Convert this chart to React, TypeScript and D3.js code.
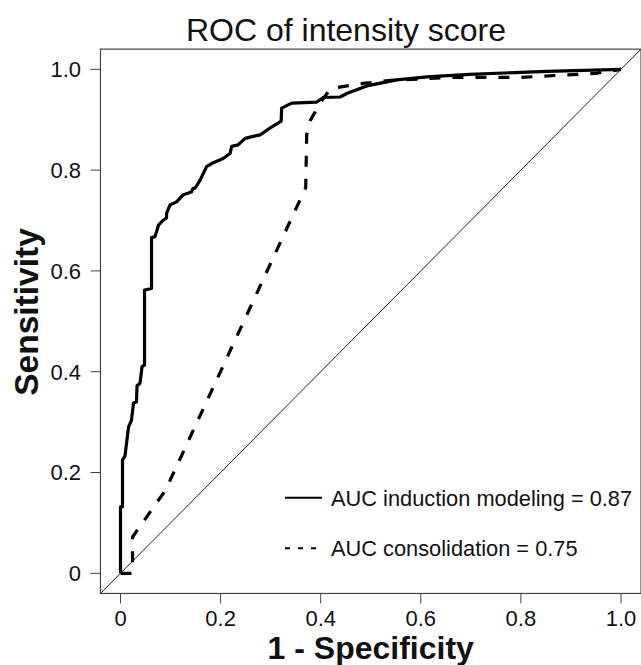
import React from 'react'
import * as d3 from 'd3'

// ROC points: [1 - specificity, sensitivity]
const inductionFpr = [0, 0, 0.004, 0.004, 0.009, 0.016, 0.022, 0.026, 0.032, 0.033, 0.039, 0.043, 0.048, 0.048, 0.062, 0.062, 0.069, 0.076, 0.086, 0.092, 0.092, 0.099, 0.112, 0.125, 0.135, 0.142, 0.145, 0.149, 0.159, 0.172, 0.182, 0.205, 0.219, 0.222, 0.235, 0.249, 0.261, 0.279, 0.301, 0.321, 0.322, 0.342, 0.392, 0.405, 0.439, 0.452, 0.492, 0.552, 0.612, 0.698, 0.852, 1]
const inductionTpr = [0, 0.132, 0.132, 0.225, 0.233, 0.29, 0.304, 0.338, 0.34, 0.372, 0.377, 0.41, 0.413, 0.562, 0.565, 0.666, 0.668, 0.691, 0.701, 0.705, 0.714, 0.731, 0.737, 0.751, 0.754, 0.757, 0.764, 0.764, 0.78, 0.807, 0.813, 0.823, 0.833, 0.847, 0.85, 0.863, 0.866, 0.87, 0.885, 0.897, 0.923, 0.933, 0.935, 0.944, 0.945, 0.952, 0.967, 0.979, 0.985, 0.99, 0.996, 1]

const consolidationFpr = [0, 0.024, 0.024, 0.09, 0.37, 0.372, 0.38, 0.4, 0.42, 0.485, 0.54, 0.66, 0.8, 0.95, 1]
const consolidationTpr = [0, 0, 0.072, 0.165, 0.765, 0.87, 0.9, 0.935, 0.962, 0.972, 0.978, 0.984, 0.984, 0.992, 1]

const ticks = [0, 0.2, 0.4, 0.6, 0.8, 1.0]
const tickLabels = ['0', '0.2', '0.4', '0.6', '0.8', '1.0']
const legendLabels = ['AUC induction modeling = 0.87', 'AUC consolidation = 0.75']

const font = '"Liberation Sans", Arial, sans-serif'

export default function App() {
    const width = 641, height = 665
    const x = d3.scaleLinear().domain([0, 1]).range([120.5, 621])
    const y = d3.scaleLinear().domain([0, 1]).range([573.3, 69.3])
    // R style 4% padding around the data range
    const [bx0, bx1] = [x(-0.04), x(1.04)]
    const [by0, by1] = [y(-0.04), y(1.04)]

    const line = d3.line<[number, number]>().x(d => x(d[0])).y(d => y(d[1]))
    const induction = line(inductionFpr.map((v, i) => [v, inductionTpr[i]]))
    const consolidation = line(consolidationFpr.map((v, i) => [v, consolidationTpr[i]]))

    return (
        <svg width={width} height={height} style={{ position: 'absolute', left: 0, top: 0, background: '#fff' }}
            fontFamily={font}>
            <text x={346} y={41} textAnchor="middle" fontSize={32} fill="#111">ROC of intensity score</text>

            <rect x={bx0} y={by1} width={bx1 - bx0} height={by0 - by1} fill="none" stroke="#444" strokeWidth={1.2} />
            <line x1={bx0} y1={by0} x2={bx1} y2={by1} stroke="#222" strokeWidth={1} />

            {ticks.map((t, i) => (
                <g key={'x' + i}>
                    <line x1={x(t)} x2={x(t)} y1={by0} y2={by0 + 10} stroke="#444" />
                    <text x={x(t)} y={626} textAnchor="middle" fontSize={22} fill="#111">{tickLabels[i]}</text>
                </g>
            ))}
            {ticks.map((t, i) => (
                <g key={'y' + i}>
                    <line x1={bx0 - 10} x2={bx0} y1={y(t)} y2={y(t)} stroke="#444" />
                    <text x={81} y={y(t)} dy="0.36em" textAnchor="end" fontSize={22} fill="#111">{tickLabels[i]}</text>
                </g>
            ))}

            <path d={consolidation || ''} fill="none" stroke="#000" strokeWidth={3.2} strokeDasharray="11 12" />
            <path d={induction || ''} fill="none" stroke="#000" strokeWidth={3.2} strokeLinejoin="round" />

            <line x1={285} x2={322} y1={497.7} y2={497.7} stroke="#000" strokeWidth={2} />
            <text x={331} y={497.7} dy="0.36em" fontSize={21.8} fill="#111">{legendLabels[0]}</text>
            <line x1={285} x2={322} y1={548.3} y2={548.3} stroke="#000" strokeWidth={2} strokeDasharray="5 8" />
            <text x={331} y={548.3} dy="0.36em" fontSize={21.8} fill="#111">{legendLabels[1]}</text>

            <text x={(bx0 + bx1) / 2} y={659} textAnchor="middle" fontSize={32} fontWeight="bold" fill="#111">1 - Specificity</text>
            <text transform={`translate(38,312) rotate(-90)`} textAnchor="middle" fontSize={33.5} fontWeight="bold" fill="#111">Sensitivity</text>
        </svg>
    )
}
